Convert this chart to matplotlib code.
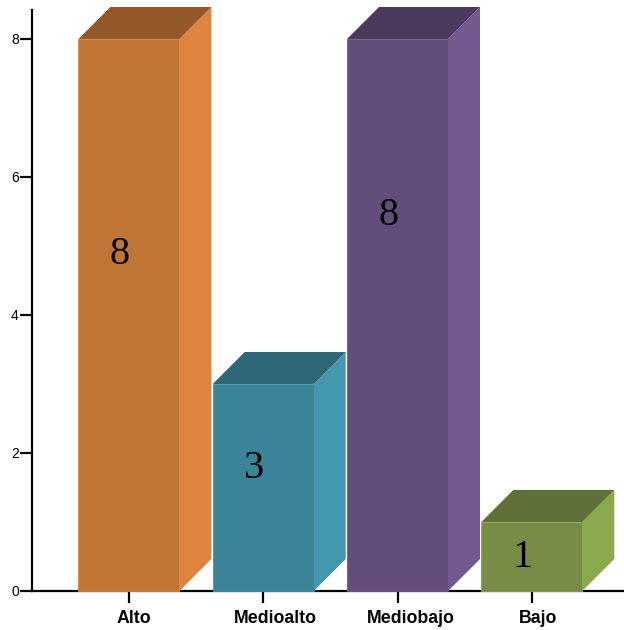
import matplotlib
matplotlib.use("Agg")
import matplotlib.pyplot as plt
from matplotlib.patches import Polygon, Rectangle
from matplotlib.transforms import ScaledTranslation

categories = ["Alto", "Medioalto", "Mediobajo", "Bajo"]
values = [8, 3, 8, 1]

front_colors = ["#BF7536", "#3A8498", "#634D7B", "#778D45"]
side_colors = ["#DE843F", "#4397AE", "#73598F", "#8AA94F"]
top_colors = ["#93592B", "#2E6776", "#4B3A5D", "#5F7137"]
label_frac = [0.61, 0.59, 0.68, 0.48]

fig = plt.figure(figsize=(6.24, 6.30), dpi=100)
ax = fig.add_axes([32/624, 39/630, 592/624, 581/630])

W = 0.752
DX = 0.238
DY = 0.464

for i, (cat, v) in enumerate(zip(categories, values)):
    x0 = i - W/2
    x1 = i + W/2
    ax.add_patch(Polygon([(x1, 0), (x1 + DX, DY), (x1 + DX, v + DY), (x1, v)],
                         closed=True, facecolor=side_colors[i], edgecolor='none',
                         zorder=3, clip_on=False))
    ax.add_patch(Polygon([(x0, v), (x0 + DX, v + DY), (x1 + DX, v + DY), (x1, v)],
                         closed=True, facecolor=top_colors[i], edgecolor='none',
                         zorder=3, clip_on=False))
    ax.add_patch(Rectangle((x0, 0), W, v, facecolor=front_colors[i],
                           edgecolor=side_colors[i], linewidth=0.6, zorder=4, clip_on=False))
    ax.text(i - 0.07, v * label_frac[i], str(v), ha='center', va='center',
            fontsize=29, family='Liberation Serif', color='black', zorder=5)

ax.set_xlim(-0.722, 3.686)
ax.set_ylim(0, 8.42)
ax.set_xticks(range(len(categories)))
ax.set_xticklabels(categories, fontsize=12.8, fontweight='bold', family='Liberation Sans')
ax.set_yticks([0, 2, 4, 6, 8])
ax.set_yticklabels(["0", "2", "4", "6", "8"], fontsize=10, family='Liberation Sans')
for s in ['top', 'right']:
    ax.spines[s].set_visible(False)
for s in ['left', 'bottom']:
    ax.spines[s].set_linewidth(1.6)
    ax.spines[s].set_zorder(2)
ax.tick_params(axis='both', direction='out', length=8.5, width=1.6, pad=1)
ax.tick_params(axis='x', pad=5)

# reference labels sit slightly right of their ticks
fig.canvas.draw()
renderer = fig.canvas.get_renderer()
for lab in ax.get_xticklabels():
    w = lab.get_window_extent(renderer).width
    lab.set_transform(lab.get_transform() + ScaledTranslation(0.15 * w / fig.dpi, 0, fig.dpi_scale_trans))

fig.savefig("out.png", dpi=100)
